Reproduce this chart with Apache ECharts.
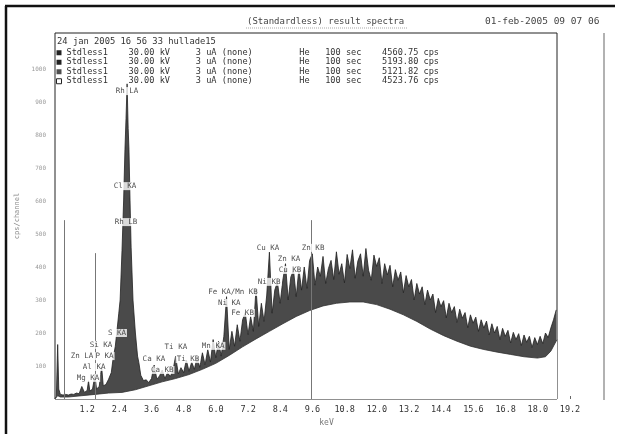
<!DOCTYPE html>
<html>
<head>
<meta charset="utf-8">
<script src="https://cdn.jsdelivr.net/npm/echarts@6/dist/echarts.min.js"></script>
<style>
html, body { margin: 0; padding: 0; background: #fff; }
#spectrum { width: 623px; height: 434px; }
</style>
</head>
<body>
<div id="spectrum"></div>
<script>
// run table (header rows)
const runNames = ['Stdless1', 'Stdless1', 'Stdless1', 'Stdless1'];
const runKV = ['30.00 kV', '30.00 kV', '30.00 kV', '30.00 kV'];
const runCurrent = ['3 uA', '3 uA', '3 uA', '3 uA'];
const runFilter = ['(none)', '(none)', '(none)', '(none)'];
const runMedium = ['He', 'He', 'He', 'He'];
const runTime = ['100 sec', '100 sec', '100 sec', '100 sec'];
const runRate = ['4560.75 cps', '5193.80 cps', '5121.82 cps', '4523.76 cps'];

// spectrum below 3.4 keV (keV / cps per channel)
const lowEnergy = [0, 0.05, 0.1, 0.14, 0.2, 0.3, 0.4, 0.5, 0.6, 0.7, 0.8, 0.9, 1.0, 1.1, 1.2, 1.25, 1.3, 1.4, 1.49, 1.55, 1.65, 1.74, 1.8, 1.9, 2.0, 2.1, 2.16, 2.25, 2.31, 2.38, 2.43, 2.5, 2.56, 2.61, 2.65, 2.69, 2.73, 2.76, 2.8, 2.84, 2.91, 3.0, 3.08, 3.13, 3.2, 3.3];
const lowCounts = [0, 8, 165, 30, 14, 12, 14, 12, 15, 14, 18, 16, 38, 20, 26, 55, 24, 30, 72, 30, 38, 98, 40, 44, 60, 80, 118, 160, 205, 260, 300, 450, 600, 755, 850, 955, 820, 755, 600, 460, 300, 200, 130, 110, 72, 56];

// spectrum from 3.4 keV, one value per 0.1 keV channel
const contStartKeV = 3.4;
const contStepKeV = 0.1;
const contCounts = [58, 50, 62, 103, 60, 70, 88, 62, 80, 68, 86, 130, 76, 95, 80, 118, 84, 112, 90, 126,
  96, 140, 104, 150, 112, 180, 125, 175, 130, 190, 310, 150, 205, 160, 225, 175, 240, 262, 195, 250,
  205, 335, 220, 290, 235, 315, 445, 260, 330, 355, 290, 360, 410, 300, 370, 390, 310, 395, 330, 400,
  335, 420,
  440, 345, 400, 372, 432, 350, 395, 420, 362, 446,
  378, 410, 352, 438, 395, 452, 366, 418, 440, 372,
  456, 390, 360, 436, 402, 428, 350, 410, 376, 405,
  340, 392, 360, 385, 322, 374, 340, 362, 300, 350,
  318, 340, 286, 330, 300, 318, 262, 305, 280, 298,
  246, 290, 262, 280, 232, 272, 245, 262, 216, 255,
  230, 248, 205, 240, 215, 236, 194, 228, 200, 220,
  180, 214, 190, 208, 170, 202, 180, 198, 162, 194,
  172, 190, 156, 186, 165, 190, 168, 200, 186, 215,
  240, 270];

// lower edge of the noise band
const floorEnergy = [0, 0.1, 0.2, 0.5, 1.0, 1.5, 2.0, 2.5, 3.0, 3.5, 4.0, 4.5, 5.0, 5.5, 6.0, 6.5, 7.0, 7.5, 8.0, 8.5, 9.0, 9.5, 10.0, 10.5, 11.0, 11.5, 12.0, 12.5, 13.0, 13.5, 14.0, 14.5, 15.0, 15.5, 16.0, 16.5, 17.0, 17.5, 18.0, 18.3, 18.5, 18.73];
const floorCounts = [0, 10, 6, 6, 10, 14, 18, 20, 28, 40, 52, 62, 74, 90, 108, 132, 158, 182, 205, 228, 250, 268, 282, 290, 294, 294, 286, 272, 255, 235, 212, 192, 175, 160, 150, 142, 135, 128, 124, 128, 145, 180];

// peak identifications
const peakNames = ['Rh LA', 'Cl KA', 'Rh LB', 'S KA', 'Si KA', 'Zn LA', 'P KA', 'Al KA', 'Mg KA', 'Ca KA', 'Ca KB', 'Ti KA', 'Ti KB', 'Mn KA', 'Fe KA/Mn KB', 'Ni KA', 'Fe KB', 'Cu KA', 'Zn KB', 'Zn KA', 'Cu KB', 'Ni KB'];
const peakEnergy = [2.69, 2.61, 2.65, 2.31, 1.72, 1.01, 1.85, 1.46, 1.23, 3.69, 4.0, 4.51, 4.96, 5.9, 6.64, 6.5, 7.0, 7.95, 9.63, 8.73, 8.77, 7.99];
const peakLabelY = [933, 645, 536, 200, 164, 130, 130, 97, 64, 121, 88, 158, 121, 161, 324, 291, 261, 458, 458, 424, 391, 355];

// cursor / marker lines
const markerEnergy = [0.33, 1.49, 9.57];
const markerTop = [542, 442, 542];

const mono = 'DejaVu Sans Mono';

function pad(s, n) { return s.padEnd(n, ' '); }
const rows = runNames.map((n, i) =>
  pad(n, 12) + pad(runKV[i], 13) + pad(runCurrent[i], 5) + pad(runFilter[i], 15) +
  pad(runMedium[i], 5) + pad(runTime[i], 11) + runRate[i]);

const upper = lowEnergy.map((e, i) => [e, lowCounts[i]]);
contCounts.forEach((c, i) => upper.push([+(contStartKeV + i * contStepKeV).toFixed(2), c]));
const floor = floorEnergy.map((e, i) => [e, floorCounts[i]]);

const chart = echarts.init(document.getElementById('spectrum'));
chart.setOption({
  animation: false,
  title: [
    { text: '(Standardless) result spectra', left: 247, top: 17, padding: 0,
      textStyle: { fontFamily: mono, fontSize: 9, fontWeight: 'normal', color: '#444' } },
    { text: '01-feb-2005 09 07 06', left: 485, top: 17, padding: 0,
      textStyle: { fontFamily: mono, fontSize: 9.5, fontWeight: 'normal', color: '#444' } },
    { text: '24 jan 2005 16 56 33 hullade15', left: 57, top: 37, padding: 0,
      textStyle: { fontFamily: mono, fontSize: 8.8, fontWeight: 'normal', color: '#333' } }
  ],
  legend: {
    orient: 'vertical', left: 56, top: 48, padding: 0,
    itemWidth: 5, itemHeight: 5, itemGap: 0, icon: 'rect', selectedMode: false,
    textStyle: { fontFamily: mono, fontSize: 8.6, lineHeight: 9.5, color: '#333' },
    data: rows.map((r, i) => ({
      name: r,
      itemStyle: i < 3 ? { color: '#222' } : { color: '#fff', borderColor: '#222', borderWidth: 1 }
    }))
  },
  grid: [
    { left: 55, top: 33, right: 66, bottom: 35, show: true, borderColor: '#222', borderWidth: 1 },
    { left: 55, top: 33, right: 53, bottom: 35 }
  ],
  xAxis: [
    { type: 'value', gridIndex: 0, min: 0, max: 18.73, show: false },
    {
      type: 'value', gridIndex: 1, min: 0, max: 19.2, interval: 1.2,
      name: 'keV', nameLocation: 'middle', nameGap: 16,
      nameTextStyle: { fontFamily: mono, fontSize: 8, color: '#777', padding: [0, 0, 0, 28] },
      axisLine: { show: false },
      axisTick: { show: true, inside: true, length: 3, lineStyle: { color: '#666' } },
      splitLine: { show: false },
      axisLabel: {
        margin: 6, showMinLabel: false, fontFamily: mono, fontSize: 8.5, color: '#333',
        formatter: v => v.toFixed(1)
      }
    }
  ],
  yAxis: [
    {
      type: 'value', gridIndex: 0, min: 0, max: 1109, interval: 100,
      name: 'cps/channel', nameLocation: 'middle', nameGap: 17,
      nameTextStyle: { fontFamily: mono, fontSize: 7, color: '#888' },
      axisLine: { show: false }, axisTick: { show: false }, splitLine: { show: false },
      axisLabel: {
        margin: 9, fontFamily: mono, fontSize: 6, color: '#999',
        formatter: v => (v > 0 && v <= 1000 && v % 100 === 0 ? String(v) : '')
      }
    },
    { type: 'value', gridIndex: 1, min: 0, max: 1109, show: false }
  ],
  series: [
    {
      name: rows[0], type: 'line', xAxisIndex: 0, yAxisIndex: 0, data: upper,
      symbol: 'none', smooth: false, z: 2,
      lineStyle: { color: '#222', width: 0.8 },
      areaStyle: { color: '#4a4a4a', opacity: 1 }
    },
    {
      name: rows[1], type: 'line', xAxisIndex: 0, yAxisIndex: 0, data: floor,
      symbol: 'none', smooth: false, z: 3,
      lineStyle: { color: '#333', width: 0.8 },
      areaStyle: { color: '#fff', opacity: 1 }
    },
    {
      name: rows[2], type: 'scatter', xAxisIndex: 0, yAxisIndex: 0,
      data: peakEnergy.map((e, i) => [e, peakLabelY[i]]),
      symbolSize: 1, itemStyle: { color: 'rgba(0,0,0,0)' }, z: 10,
      label: {
        show: true, position: 'inside', formatter: p => peakNames[p.dataIndex],
        fontFamily: mono, fontSize: 7.5, color: '#222', backgroundColor: '#fff', padding: [0, 1]
      }
    },
    {
      name: rows[3], type: 'line', xAxisIndex: 0, yAxisIndex: 0, data: [], z: 5,
      markLine: {
        silent: true, symbol: ['none', 'none'], label: { show: false },
        lineStyle: { color: '#777', width: 1, type: 'solid' },
        data: markerEnergy.map((e, i) => [{ coord: [e, 0] }, { coord: [e, markerTop[i]] }])
      }
    }
  ],
  graphic: [
    { type: 'line', shape: { x1: 5, y1: 6, x2: 615, y2: 6 }, style: { stroke: '#111', lineWidth: 2.5 } },
    { type: 'line', shape: { x1: 6, y1: 6, x2: 6, y2: 434 }, style: { stroke: '#111', lineWidth: 2.5 } },
    { type: 'line', shape: { x1: 604, y1: 33, x2: 604, y2: 400 }, style: { stroke: '#999', lineWidth: 1.5 } },
    { type: 'line', shape: { x1: 246, y1: 28, x2: 408, y2: 28 }, style: { stroke: '#aaa', lineWidth: 1, lineDash: [1, 1] } }
  ]
});
</script>
</body>
</html>
